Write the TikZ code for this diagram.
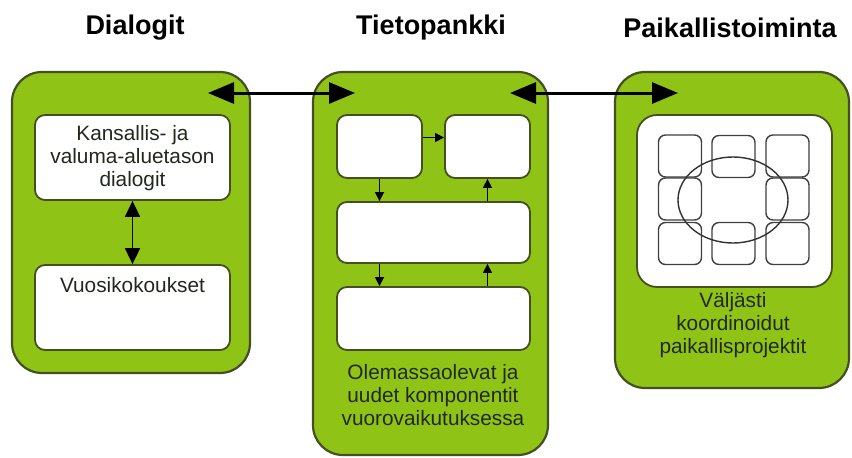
\documentclass[tikz,border=0pt]{standalone}
\usepackage{fontspec}
\setmainfont{Liberation Sans}
\usetikzlibrary{arrows.meta,shapes.geometric}
\definecolor{grn}{RGB}{143,196,22}
\definecolor{edgec}{RGB}{68,80,36}
\definecolor{txtc}{RGB}{35,40,30}
\begin{document}
\begin{tikzpicture}[x=1pt,y=-1pt,
  panel/.style={draw=edgec, line width=2.2pt, fill=grn, rounded corners=30pt, inner sep=0pt},
  wbox/.style={draw=edgec, line width=1.8pt, fill=white, rounded corners=10pt, inner sep=0pt},
  gbox/.style={draw=black!75, line width=1.4pt, rounded corners=7pt, inner sep=0pt, minimum width=43pt, minimum height=42pt},
  title/.style={font=\fontsize{27}{30}\selectfont\bfseries, text=black},
  body/.style={font=\fontsize{20.8}{23}\selectfont, text=txtc, align=center, inner sep=0pt},
  bigarr/.style={line width=3pt, black, {Triangle[length=26pt,width=21pt]}-{Triangle[length=26pt,width=21pt]}},
  midarr/.style={line width=1.8pt, black, {Triangle[length=16pt,width=15pt]}-{Triangle[length=16pt,width=15pt]}},
  sarr/.style={line width=1.5pt, black, -{Triangle[length=9pt,width=9pt]}}
]
\useasboundingbox (0,0) rectangle (852,458);

% titles
\node[title] (t1) at (135,28) {Dialogit};
\node[title] (t2) at (431,28) {Tietopankki};
\node[title] (t3) at (730,28) {Paikallistoiminta};

% panels
\node[panel, minimum width=238pt, minimum height=301pt] (L) at (131,222.5) {};
\node[panel, minimum width=235pt, minimum height=383pt] (M) at (430.5,263.5) {};
\node[panel, minimum width=234pt, minimum height=316pt] (R) at (732,230) {};

% left inner
\node[wbox, minimum width=195pt, minimum height=85pt] (K) at (132.5,157.5) {};
\node[body] (Kt) at (132.5,158) {Kansallis- ja\\valuma-aluetason\\dialogit};
\node[wbox, minimum width=195pt, minimum height=85pt] (V) at (132.5,307.5) {};
\node[body] (Vt) at (132.5,285) {Vuosikokoukset};
\draw[midarr] (K.south) -- (V.north);

% middle inner
\node[wbox, minimum width=85pt, minimum height=63pt] (A) at (379.5,146.5) {};
\node[wbox, minimum width=85pt, minimum height=63pt] (B) at (487.5,146.5) {};
\node[wbox, minimum width=193pt, minimum height=61pt] (C) at (433.5,232.5) {};
\node[wbox, minimum width=193pt, minimum height=63pt] (D) at (433.5,318.5) {};
\draw[sarr] ([yshift=9pt]A.east) -- ([yshift=9pt]B.west);
\draw[sarr] (A.south) -- (A.south |- C.north);
\draw[sarr] (C.south -| A.south) -- (A.south |- D.north);
\draw[sarr] (B.south |- C.north) -- (B.south);
\draw[sarr] (B.south |- D.north) -- (B.south |- C.south);
\node[body] (Mt) at (433,395) {Olemassaolevat ja\\uudet komponentit\\vuorovaikutuksessa};

% right inner
\node[wbox, minimum width=195pt, minimum height=172pt, rounded corners=20pt] (W) at (734.5,201) {};
\node[gbox] (g11) at (680,156) {};
\node[gbox] (g12) at (733.5,156.5) {};
\node[gbox] (g13) at (787.5,156) {};
\node[gbox] (g21) at (680,199) {};
\node[gbox] (g23) at (787.5,199) {};
\node[gbox] (g31) at (680,243.5) {};
\node[gbox] (g32) at (733.5,243.5) {};
\node[gbox] (g33) at (787.5,243.5) {};
\node[draw=black!80, line width=1.4pt, ellipse, minimum width=110pt, minimum height=86pt, inner sep=0pt] (E) at (733,200) {};
\node[body] (Rt) at (733,325) {Väljästi\\koordinoidut\\paikallisprojektit};

% big arrows
\coordinate (p1) at (208,93);
\coordinate (p2) at (355,93);
\coordinate (p3) at (510,93);
\coordinate (p4) at (678,93);
\draw[bigarr] (p1) -- (p2);
\draw[bigarr] (p3) -- (p4);
\end{tikzpicture}
\end{document}
